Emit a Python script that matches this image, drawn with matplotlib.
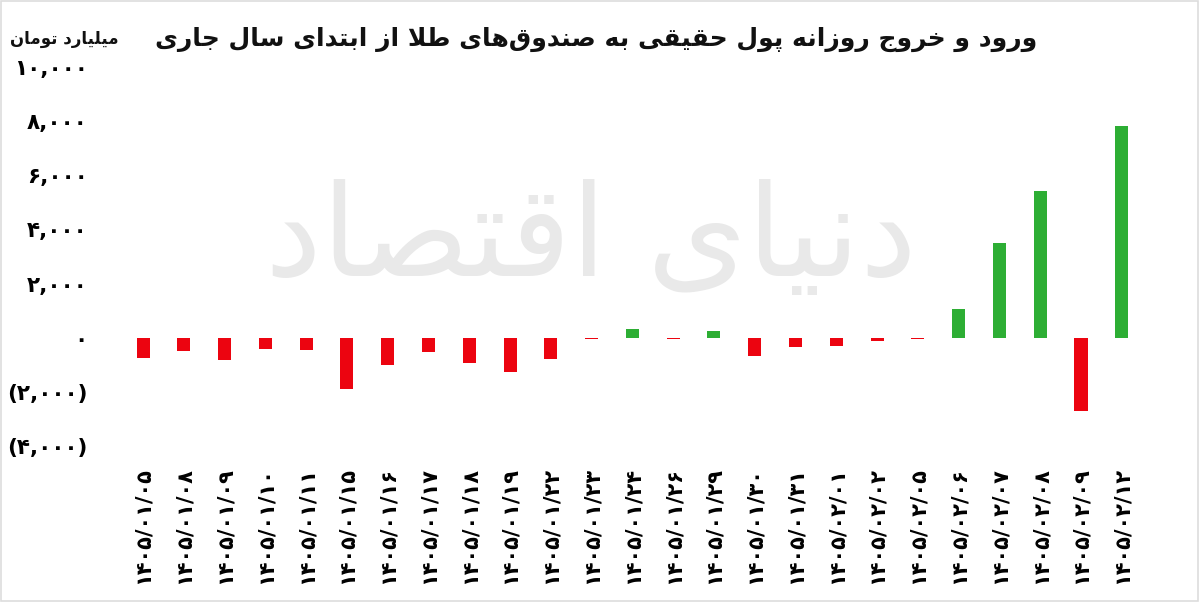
import matplotlib
matplotlib.use("Agg")
import matplotlib.pyplot as plt
from matplotlib.patches import Rectangle

# --- minimal Persian shaping (matplotlib 3.10 has no Arabic shaping / bidi) ---
FORMS = {
    'ا': ('\uFE8D', '\uFE8E', None, None), 'آ': ('\uFE81', '\uFE82', None, None),
    'د': ('\uFEA9', '\uFEAA', None, None), 'ذ': ('\uFEAB', '\uFEAC', None, None),
    'ر': ('\uFEAD', '\uFEAE', None, None), 'ز': ('\uFEAF', '\uFEB0', None, None),
    'ژ': ('\uFB8A', '\uFB8B', None, None), 'و': ('\uFEED', '\uFEEE', None, None),
    'ب': ('\uFE8F', '\uFE90', '\uFE91', '\uFE92'), 'پ': ('\uFB56', '\uFB57', '\uFB58', '\uFB59'),
    'ت': ('\uFE95', '\uFE96', '\uFE97', '\uFE98'), 'ث': ('\uFE99', '\uFE9A', '\uFE9B', '\uFE9C'),
    'ج': ('\uFE9D', '\uFE9E', '\uFE9F', '\uFEA0'), 'چ': ('\uFB7A', '\uFB7B', '\uFB7C', '\uFB7D'),
    'ح': ('\uFEA1', '\uFEA2', '\uFEA3', '\uFEA4'), 'خ': ('\uFEA5', '\uFEA6', '\uFEA7', '\uFEA8'),
    'س': ('\uFEB1', '\uFEB2', '\uFEB3', '\uFEB4'), 'ش': ('\uFEB5', '\uFEB6', '\uFEB7', '\uFEB8'),
    'ص': ('\uFEB9', '\uFEBA', '\uFEBB', '\uFEBC'), 'ض': ('\uFEBD', '\uFEBE', '\uFEBF', '\uFEC0'),
    'ط': ('\uFEC1', '\uFEC2', '\uFEC3', '\uFEC4'), 'ظ': ('\uFEC5', '\uFEC6', '\uFEC7', '\uFEC8'),
    'ع': ('\uFEC9', '\uFECA', '\uFECB', '\uFECC'), 'غ': ('\uFECD', '\uFECE', '\uFECF', '\uFED0'),
    'ف': ('\uFED1', '\uFED2', '\uFED3', '\uFED4'), 'ق': ('\uFED5', '\uFED6', '\uFED7', '\uFED8'),
    'ک': ('\uFB8E', '\uFB8F', '\uFB90', '\uFB91'), 'گ': ('\uFB92', '\uFB93', '\uFB94', '\uFB95'),
    'ل': ('\uFEDD', '\uFEDE', '\uFEDF', '\uFEE0'), 'م': ('\uFEE1', '\uFEE2', '\uFEE3', '\uFEE4'),
    'ن': ('\uFEE5', '\uFEE6', '\uFEE7', '\uFEE8'), 'ه': ('\uFEE9', '\uFEEA', '\uFEEB', '\uFEEC'),
    'ی': ('\uFBFC', '\uFBFD', '\uFBFE', '\uFBFF'), 'ي': ('\uFEF1', '\uFEF2', '\uFEF3', '\uFEF4'),
}


def fa(text):
    chars = list(text)
    out = []
    i = 0
    while i < len(chars):
        c = chars[i]
        if c not in FORMS:
            if c != '\u200c':
                out.append(c)
            i += 1
            continue
        prev = chars[i - 1] if i > 0 else None
        nxt = chars[i + 1] if i + 1 < len(chars) else None
        join_prev = prev in FORMS and FORMS[prev][2] is not None
        if c == 'ل' and nxt == 'ا':
            out.append('\uFEFC' if join_prev else '\uFEFB')
            i += 2
            continue
        join_next = FORMS[c][2] is not None and nxt in FORMS
        iso, fin, ini, med = FORMS[c]
        if join_prev and join_next:
            out.append(med)
        elif join_prev:
            out.append(fin)
        elif join_next:
            out.append(ini)
        else:
            out.append(iso)
        i += 1
    return ''.join(out[::-1])


dates = ['۱۴۰۵/۰۱/۰۵', '۱۴۰۵/۰۱/۰۸', '۱۴۰۵/۰۱/۰۹', '۱۴۰۵/۰۱/۱۰', '۱۴۰۵/۰۱/۱۱',
         '۱۴۰۵/۰۱/۱۵', '۱۴۰۵/۰۱/۱۶', '۱۴۰۵/۰۱/۱۷', '۱۴۰۵/۰۱/۱۸', '۱۴۰۵/۰۱/۱۹',
         '۱۴۰۵/۰۱/۲۲', '۱۴۰۵/۰۱/۲۳', '۱۴۰۵/۰۱/۲۴', '۱۴۰۵/۰۱/۲۶', '۱۴۰۵/۰۱/۲۹',
         '۱۴۰۵/۰۱/۳۰', '۱۴۰۵/۰۱/۳۱', '۱۴۰۵/۰۲/۰۱', '۱۴۰۵/۰۲/۰۲', '۱۴۰۵/۰۲/۰۵',
         '۱۴۰۵/۰۲/۰۶', '۱۴۰۵/۰۲/۰۷', '۱۴۰۵/۰۲/۰۸', '۱۴۰۵/۰۲/۰۹', '۱۴۰۵/۰۲/۱۲']
flows = [-740, -500, -815, -425, -460, -1870, -990, -520, -940, -1260,
         -790, -60, 320, -30, 270, -670, -340, -315, -100, -60,
         1060, 3490, 5400, -2680, 7800]

yticks = [-4000, -2000, 0, 2000, 4000, 6000, 8000, 10000]
ytick_labels = ['(۴,۰۰۰)', '(۲,۰۰۰)', '۰', '۲,۰۰۰', '۴,۰۰۰', '۶,۰۰۰', '۸,۰۰۰', '۱۰,۰۰۰']

title = 'ورود و خروج روزانه پول حقیقی به صندوق‌های طلا از ابتدای سال جاری'
unit = 'میلیارد تومان'
watermark = 'دنیای اقتصاد'

RED = '#EC0410'
GREEN = '#2DAE34'

fig = plt.figure(figsize=(12, 6.02), dpi=100)
fig.patch.set_facecolor('white')
ax = fig.add_axes([0.0937, 0.236, 0.8666, 0.676])

x = list(range(len(flows)))
colors = [GREEN if v > 0 else RED for v in flows]
ax.bar(x, flows, width=0.32, color=colors, zorder=2)

ax.set_xlim(-0.75, len(flows) - 0.25)
ax.set_ylim(-4500, 10500)
ax.set_yticks(yticks)
ax.set_yticklabels(ytick_labels, fontsize=15.5, fontweight='bold')
ax.set_xticks(x)
ax.set_xticklabels(dates, rotation=90, fontsize=15, fontweight='bold')
ax.tick_params(axis='both', length=0)
ax.tick_params(axis='y', pad=18)
ax.tick_params(axis='x', pad=5)
for s in ax.spines.values():
    s.set_visible(False)

# watermark
ax.text(0.46, 0.54, fa(watermark), transform=ax.transAxes, fontsize=92,
        color='#e9e9e9', ha='center', va='center', zorder=0)

fig.text(0.497, 0.934, fa(title), fontsize=18, fontweight='bold',
         ha='center', va='center', color='#111111')
fig.text(0.054, 0.935, fa(unit), fontsize=12, fontweight='bold',
         ha='center', va='center', color='#111111')

fig.add_artist(Rectangle((0.001, 0.002), 0.997, 0.996, transform=fig.transFigure,
                         fill=False, edgecolor='#dddddd', linewidth=1.2))

fig.savefig('out.png', dpi=100)
